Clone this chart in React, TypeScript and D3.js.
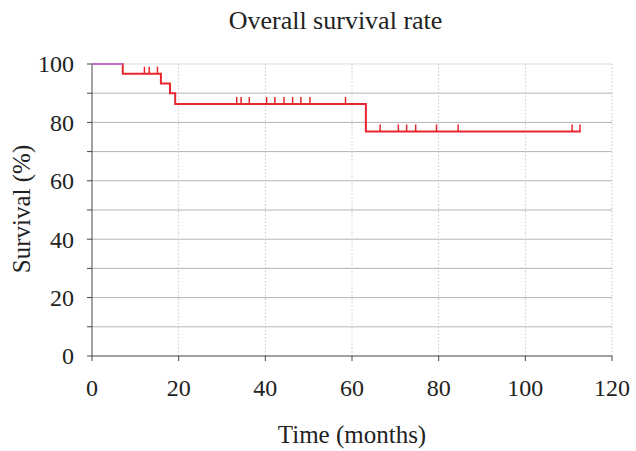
import * as d3 from 'd3';

// Kaplan-Meier steps
const stepTimes = [0, 7.1, 15.9, 18, 19.2, 63.2];
const stepValues = [100, 96.7, 93.3, 90, 86.3, 76.9];
const endTime = 112.8;
const censorTimes = [12.1, 13.2, 15.1, 33.4, 34.4, 36.3, 40.3, 42.2, 44.3, 46.3, 48.2, 50.3, 58.5,
  66.5, 70.7, 72.6, 74.7, 79.5, 84.5, 110.8, 112.6];
const xTicks = [0, 20, 40, 60, 80, 100, 120];
const yTicks = [0, 20, 40, 60, 80, 100];
const yMinor = [10, 30, 50, 70, 90];

const W = 636;
const H = 451;
const margin = { top: 64, right: 24, bottom: 95, left: 92 };
const font = '"Liberation Serif", "Times New Roman", serif';

function survivalAt(t: number) {
  let v = stepValues[0];
  stepTimes.forEach((s, i) => { if (t >= s) v = stepValues[i]; });
  return v;
}

export default function App() {
  const x = d3.scaleLinear().domain([0, 120]).range([margin.left, W - margin.right]);
  const y = d3.scaleLinear().domain([0, 100]).range([H - margin.bottom, margin.top]);

  const pts: [number, number][] = stepTimes.map((t, i) => [t, stepValues[i]]);
  pts.push([endTime, stepValues[stepValues.length - 1]]);
  const line = d3.line<[number, number]>()
    .x(d => x(d[0]))
    .y(d => y(d[1]))
    .curve(d3.curveStepAfter);

  const x0 = x(0), x1 = x(120), yb = y(0), yt = y(100);

  return (
    <svg width={W} height={H} style={{ position: 'absolute', left: 0, top: 0, background: '#fff' }}>
      <text x={335.5} y={29} textAnchor="middle" fontFamily={font} fontSize={26} fill="#222">Overall survival rate</text>

      {/* horizontal grid */}
      {[...yMinor, 20, 40, 60, 80, 100].map(v => (
        <line key={'h' + v} x1={x0} x2={x1} y1={y(v)} y2={y(v)} stroke={v === 100 ? '#ddd' : '#b5b5b5'} strokeWidth={1} />
      ))}
      {/* vertical dotted grid */}
      {xTicks.slice(1).map(v => (
        <line key={'v' + v} x1={x(v)} x2={x(v)} y1={yt} y2={yb} stroke="#c8c8c8" strokeWidth={1} strokeDasharray="1.5,2" />
      ))}

      {/* axes */}
      <line x1={x0} x2={x0} y1={yt} y2={yb} stroke="#444" strokeWidth={1} />
      <line x1={x0} x2={x1} y1={yb} y2={yb} stroke="#444" strokeWidth={1.2} />
      {[...yTicks, ...yMinor].map(v => (
        <line key={'yt' + v} x1={x0 - 5} x2={x0} y1={y(v)} y2={y(v)} stroke="#444" />
      ))}
      {xTicks.map(v => (
        <line key={'xt' + v} x1={x(v)} x2={x(v)} y1={yb} y2={yb + 5} stroke="#444" />
      ))}
      {yTicks.map(v => (
        <text key={'yl' + v} x={x0 - 18} y={y(v)} dy="0.35em" textAnchor="end" fontFamily={font} fontSize={24} fill="#222">{v}</text>
      ))}
      {xTicks.map(v => (
        <text key={'xl' + v} x={x(v)} y={yb + 40} textAnchor="middle" fontFamily={font} fontSize={24} fill="#222">{v}</text>
      ))}
      <text x={352} y={443} textAnchor="middle" fontFamily={font} fontSize={25} fill="#222">Time (months)</text>
      <text transform={`translate(30,209) rotate(-90)`} textAnchor="middle" fontFamily={font} fontSize={25} fill="#222">Survival (%)</text>

      {/* survival curve */}
      <path d={line(pts) ?? ''} fill="none" stroke="#e8262e" strokeWidth={2} />
      <line x1={x(0)} x2={x(stepTimes[1])} y1={y(100)} y2={y(100)} stroke="#c46ac8" strokeWidth={2} />
      {censorTimes.map((t, i) => (
        <line key={'c' + i} x1={x(t)} x2={x(t)} y1={y(survivalAt(t))} y2={y(survivalAt(t)) - 7} stroke="#e8262e" strokeWidth={1.5} />
      ))}
    </svg>
  );
}
